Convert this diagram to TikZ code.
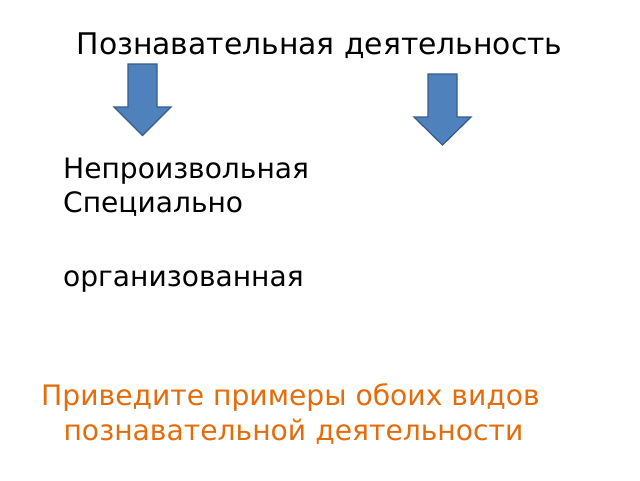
\documentclass[tikz,border=0pt]{standalone}
\usepackage{fontspec}
\setmainfont{DejaVu Sans}
\definecolor{arrfill}{HTML}{4F81BD}
\definecolor{arrline}{HTML}{385D8A}
\definecolor{orng}{HTML}{E46C0A}
\begin{document}
\begin{tikzpicture}[x=1pt,y=-1pt,
  bigarrow/.style={fill=arrfill,draw=arrline,line width=1.3pt,line join=miter},
  txt/.style={inner sep=0pt,anchor=base west,font=\fontsize{28.1}{32}\selectfont},
  ttl/.style={inner sep=0pt,anchor=base,font=\fontsize{29.8}{34}\selectfont},
  ask/.style={inner sep=0pt,anchor=base,text=orng,font=\fontsize{28.2}{34}\selectfont}]
\useasboundingbox (0,0) rectangle (640,480);
\fill[white] (0,0) rectangle (640,480);
\node[ttl] (title) at (319.5,54.5) {Познавательная деятельность};
\draw[bigarrow] (128,64) -- (157,64) -- (157,107) -- (171,107) -- (142.5,135.5) -- (114,107) -- (128,107) -- cycle;
\draw[bigarrow] (428,74) -- (457,74) -- (457,117) -- (471,117) -- (442.5,145) -- (414,117) -- (428,117) -- cycle;
\node[txt] (t1) at (63,178) {Непроизвольная};
\node[txt] (t2) at (63,212) {Специально};
\node[txt] (t3) at (63,286) {организованная};
\node[ask] (q1) at (290.5,405) {Приведите примеры обоих видов};
\node[ask] (q2) at (293.5,440) {познавательной деятельности};
\end{tikzpicture}
\end{document}
